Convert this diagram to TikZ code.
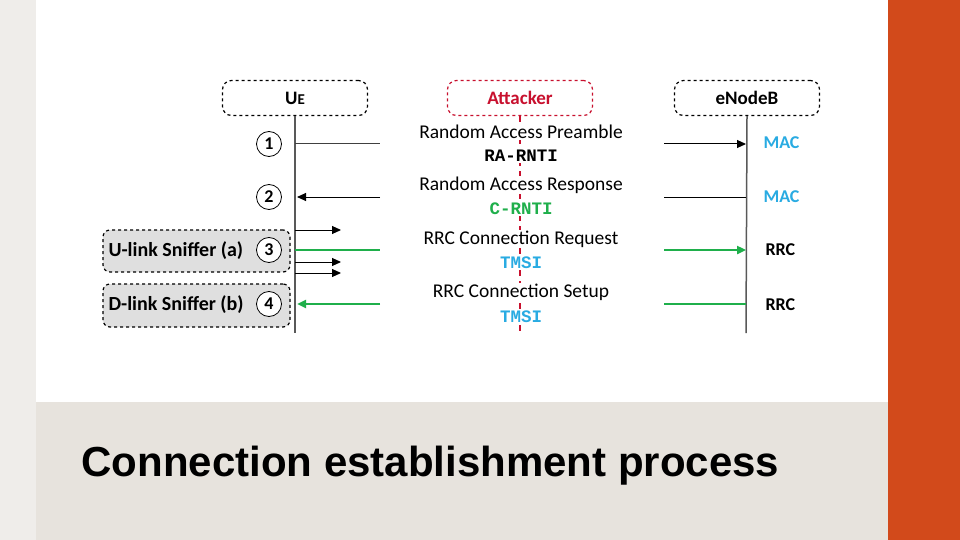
\documentclass[tikz,border=0pt]{standalone}
\usepackage{fontspec}
\setmainfont{Carlito}
\newfontfamily\titlefont{Liberation Sans}
\newfontfamily\idfont{Liberation Mono}
\usetikzlibrary{arrows.meta}
\definecolor{band}{HTML}{E7E3DD}
\definecolor{side}{HTML}{EFEDEA}
\definecolor{orng}{HTML}{D24A1B}
\definecolor{grn}{HTML}{1FAF4B}
\definecolor{cyn}{HTML}{29ABE2}
\definecolor{redd}{HTML}{C8102E}
\tikzset{
 actor/.style={draw,dashed,line width=1.2pt,rounded corners=9pt,minimum width=145pt,minimum height=35pt,font=\bfseries\fontsize{19}{19}\selectfont},
 life/.style={line width=1.5pt,gray!70!black},
 num/.style={draw,circle,line width=0.8pt,minimum size=25pt,inner sep=0pt,font=\bfseries\fontsize{18}{18}\selectfont,fill=white},
 sniff/.style={draw,dashed,line width=1.2pt,rounded corners=7pt,fill=gray!25},
 lbl/.style={fill=white,inner sep=1pt,font=\fontsize{19.5}{19.5}\selectfont},
 idl/.style={fill=white,inner sep=1pt,font=\idfont\bfseries\fontsize{17.5}{17.5}\selectfont},
 msg/.style={line width=1pt,gray!50!black},
 gmsg/.style={line width=2.5pt,grn},
 tip/.style={-{Triangle[length=9pt,width=8pt]}},
 layer/.style={font=\bfseries\fontsize{18}{18}\selectfont,anchor=west}
}
\begin{document}
\begin{tikzpicture}[x=1pt,y=-1pt]
\useasboundingbox (0,0) rectangle (960,540);
\fill[side] (0,0) rectangle (36,540);
\fill[white] (36,0) rectangle (888,402);
\fill[band] (36,402) rectangle (888,540);
\fill[orng] (888,0) rectangle (960,540);
\node[sniff,minimum width=187pt,minimum height=42pt] (sa) at (196.5,251) {};
\node[sniff,minimum width=187pt,minimum height=43pt] (sb) at (196.5,305.5) {};
\node[font=\bfseries\fontsize{20}{20}\selectfont,anchor=west] (ta) at (105,251) {U-link Sniffer (a)};
\node[font=\bfseries\fontsize{20}{20}\selectfont,anchor=west] (tb) at (105,305) {D-link Sniffer (b)};
\node[actor] (ue) at (295,98) {U{\fontsize{15}{15}\selectfont E}};
\node[actor,redd] (at) at (520,98) {Attacker};
\node[actor] (enb) at (747,98) {eNodeB};
\coordinate (ueb) at (295,333); \coordinate (enbb) at (746,333); \coordinate (atb) at (520,333);
\draw[life] (ue.south) -- (ueb);
\draw[life] (enb.south) -- (enbb);
\draw[redd,line width=2.5pt,dash pattern=on 6pt off 5pt] (at.south) -- (atb);
\foreach \n/\y in {1/144,2/197,3/250,4/304} \node[num] (c\n) at (269,\y) {\n};
% labels
\node[lbl] (l1) at (521,132) {Random Access Preamble};
\node[idl] (i1) at (521,156) {RA-RNTI};
\node[lbl] (l2) at (521,185) {Random Access Response};
\node[idl,text=grn] (i2) at (521,209) {C-RNTI};
\node[lbl] (l3) at (521,239) {RRC Connection Request};
\node[idl,text=cyn] (i3) at (521,263) {TMSI};
\node[lbl] (l4) at (521,292) {RRC Connection Setup};
\node[idl,text=cyn] (i4) at (521,317) {TMSI};
% message lines
\coordinate (a1) at (295,144); \coordinate (b1) at (380,144); \coordinate (d1) at (664,144); \coordinate (e1) at (746,144);
\draw[msg] (a1) -- (b1); \draw[msg,tip,black] (d1) -- (e1);
\coordinate (a2) at (297,197); \coordinate (b2) at (380,197); \coordinate (d2) at (664,197); \coordinate (e2) at (746,197);
\draw[msg,tip,black] (b2) -- (a2); \draw[msg,black] (d2) -- (e2);
\coordinate (a3) at (295,250); \coordinate (b3) at (380,250); \coordinate (d3) at (664,250); \coordinate (e3) at (746,250);
\draw[gmsg] (a3) -- (b3); \draw[gmsg,tip] (d3) -- (e3);
\coordinate (a4) at (297,304); \coordinate (b4) at (380,304); \coordinate (d4) at (664,304); \coordinate (e4) at (746,304);
\draw[gmsg,tip] (b4) -- (a4); \draw[gmsg] (d4) -- (e4);
\foreach \y in {230,262,273} {\coordinate (s\y) at (295,\y); \coordinate (t\y) at (341,\y); \draw[msg,black,tip] (s\y) -- (t\y);}
\node[layer,text=cyn] (m1) at (760,143) {MAC};
\node[layer,text=cyn] (m2) at (760,197) {MAC};
\node[layer] (r1) at (762,250) {RRC};
\node[layer] (r2) at (762,305) {RRC};
\node[anchor=west,font=\titlefont\bfseries\fontsize{42}{42}\selectfont] (title) at (78,466) {Connection establishment process};
\end{tikzpicture}
\end{document}
